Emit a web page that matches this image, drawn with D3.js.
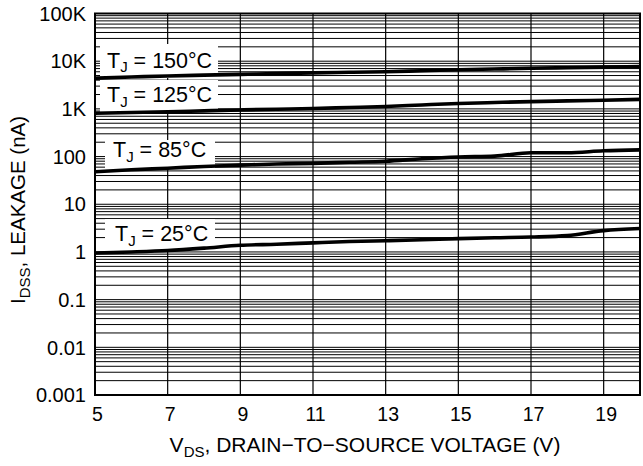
<!DOCTYPE html>
<html><head><meta charset="utf-8">
<script src="https://cdn.jsdelivr.net/npm/d3@7"></script>
<style>body{margin:0;background:#fff}svg{display:block;font-family:"Liberation Sans",Arial,sans-serif}</style>
</head><body>
<svg id="c" width="643" height="466"></svg>
<script>
const voltage = [5,6,7,8,9,10,11,12,13,14,15,16,17,18,19,20];
const t150 = [4400,4650,4900,5100,5300,5500,5700,5850,6000,6300,6600,6850,7100,7300,7500,7700];
const t125 = [810,840,870,910,950,985,1020,1070,1120,1210,1300,1360,1420,1470,1520,1580];
const t85 = [48,53,57,62,66,70,72,76,80,90,98,102,120,120,132,138];
const t25 = [0.95,1.0,1.07,1.2,1.38,1.45,1.55,1.65,1.72,1.8,1.9,1.98,2.05,2.2,2.8,3.1];
const seriesLabels = ["150°C","125°C","85°C","25°C"];
const yTickValues = [0.001,0.01,0.1,1,10,100,1000,10000,100000];
const yTickLabels = ["0.001","0.01","0.1","1","10","100","1K","10K","100K"];
const xTickValues = [5,7,9,11,13,15,17,19];

const svg = d3.select("#c");
const L=95, R=640, T=13.5, B=395;
const x = d3.scaleLinear().domain([5,20]).range([L,R]);
const y = d3.scaleLog().domain([0.001,100000]).range([B,T]);

const g = svg.append("g");
const hvals = [];
for (let d=-3; d<=4; d++) for (let m=1; m<=9; m++) hvals.push(m*Math.pow(10,d));
g.selectAll("line.h").data(hvals).enter().append("line")
  .attr("x1",L).attr("x2",R).attr("y1",d=>y(d)).attr("y2",d=>y(d))
  .attr("stroke","#000").attr("stroke-width",1);
g.selectAll("line.v").data([7,9,11,13,15,17,19]).enter().append("line")
  .attr("x1",d=>x(d)).attr("x2",d=>x(d)).attr("y1",T).attr("y2",B)
  .attr("stroke","#000").attr("stroke-width",1.2);

const boxes = [
  {x0:100,x1:218,y0:44,y1:78, tx:107, ty:67.5, s:seriesLabels[0]},
  {x0:100,x1:218,y0:80,y1:113, tx:107, ty:102, s:seriesLabels[1]},
  {x0:105,x1:215,y0:140,y1:168, tx:113, ty:157, s:seriesLabels[2]},
  {x0:105,x1:215,y0:219,y1:250, tx:115, ty:241, s:seriesLabels[3]}
];
boxes.forEach(b=>{
  svg.append("rect").attr("x",b.x0).attr("y",b.y0).attr("width",b.x1-b.x0).attr("height",b.y1-b.y0).attr("fill","#fff");
  const t = svg.append("text").attr("x",b.tx).attr("y",b.ty).attr("font-size",21.5).attr("fill","#000");
  t.append("tspan").text("T");
  t.append("tspan").attr("font-size",15).attr("dy",4.5).text("J");
  t.append("tspan").attr("dy",-4.5).text(" = "+b.s);
});

svg.append("rect").attr("x",L).attr("y",T).attr("width",R-L).attr("height",B-T)
  .attr("fill","none").attr("stroke","#000").attr("stroke-width",2);

const line = d3.line().x(d=>x(d[0])).y(d=>y(d[1])).curve(d3.curveMonotoneX);
[t150,t125,t85,t25].forEach(s=>{
  svg.append("path").datum(voltage.map((v,i)=>[v,s[i]])).attr("d",line)
    .attr("fill","none").attr("stroke","#000").attr("stroke-width",3.6);
});

svg.selectAll("text.yt").data(yTickValues).enter().append("text")
  .attr("x",86).attr("y",d=>y(d)).attr("dy","0.36em").attr("text-anchor","end")
  .attr("font-size",20).text((d,i)=>yTickLabels[i]);
svg.selectAll("text.xt").data(xTickValues).enter().append("text")
  .attr("x",d=>x(d)+2.5).attr("y",420.5).attr("text-anchor","middle")
  .attr("font-size",19.5).text(d=>d);

const xt = svg.append("text").attr("x",365).attr("y",452).attr("text-anchor","middle").attr("font-size",21);
xt.append("tspan").text("V");
xt.append("tspan").attr("font-size",15).attr("dy",4.5).text("DS");
xt.append("tspan").attr("dy",-4.5).text(", DRAIN−TO−SOURCE VOLTAGE (V)");
const yt = svg.append("text").attr("transform","translate(25,210) rotate(-90)").attr("text-anchor","middle").attr("font-size",20.5);
yt.append("tspan").text("I");
yt.append("tspan").attr("font-size",15).attr("dy",4.5).text("DSS");
yt.append("tspan").attr("dy",-4.5).text(", LEAKAGE (nA)");
</script>
</body></html>
